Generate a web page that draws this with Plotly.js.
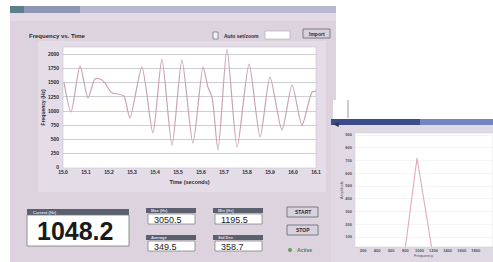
<!DOCTYPE html>
<html><head><meta charset="utf-8">
<script src="https://cdn.plot.ly/plotly-3.0.1.min.js"></script>
<style>html,body{margin:0;padding:0;background:#fff;}#chart{width:493px;height:262px;}</style>
</head><body><div id="chart"></div>
<script>
// ---- data ----
const timePos = [0.04,0.35,0.74,1.09,1.39,1.61,1.83,1.96,2.13,2.39,2.65,2.91,3.43,3.91,4.30,4.74,5.17,5.65,6.09,6.30,6.48,6.74,7.13,7.57,8.09,8.57,9.0,9.52,9.96,10.39,10.83,11.0];
const freqHz = [1512,983,1794,1229,1565,1565,1494,1406,1318,1300,1265,877,1776,612,1917,400,1900,435,1776,1423,1247,312,2088,365,1829,542,1600,665,1459,753,1335,1353];
const timeTickVals = [0,1,2,3,4,5,6,7,8,9,10,11];
const timeTickText = ["15.0","15.1","15.2","15.3","15.4","15.5","15.6","15.7","15.8","15.9","16.0","16.1"];
const freqTickVals = [0,250,500,750,1000,1250,1500,1750,2000];
const specFreq = [86,796,966,1179,2030];
const specAmp = [0,0,720,0,0];
const specXTicks = [200,400,600,800,1000,1200,1400,1600,1800,2000];
const specYTicks = [100,200,300,400,500,600,700,800,900];
const readoutMain = "1048.2";
const readoutLabels = ["Current (Hz)","Max (Hz)","Min (Hz)","Average","Std Dev"];
const readoutValues = ["3050.5","1195.5","349.5","358.7"];

// ---- helpers (pixel -> paper) ----
const W=493,H=262;
const px=x=>x/W, py=y=>1-y/H;
const shapes=[], ann=[];
function rect(x0,y0,x1,y1,fill,line,lw){
  shapes.push({type:'rect',xref:'paper',yref:'paper',x0:px(x0),x1:px(x1),y0:py(y1),y1:py(y0),
    fillcolor:fill,line:{color:line||fill,width:lw===undefined?0:lw},layer:'below'});
}
function text(x,y,t,opt){
  opt=opt||{};
  ann.push({xref:'paper',yref:'paper',x:px(x),y:py(y),text:t,showarrow:false,
    xanchor:opt.xa||'left',yanchor:'middle',textangle:opt.rot||0,
    font:{family:'Liberation Sans, Arial, sans-serif',size:opt.size||6,color:opt.color||'#2a2a33',weight:opt.weight||'bold'}});
}

// main window
rect(10,6,336,262,'#dcd3df');
rect(10,6,336,13,'#b9b6cf');
rect(10,6,24,13,'#5d7f8c');
rect(24,6,80,13,'#8f96b5');
rect(10,13,336,21,'#e2dbe6');
rect(38,41,326,192,'#e4dde8');
rect(63,47,316,168,'#ffffff','#c8c4cc',0.6);
// controls above chart
text(27,36,'Frequency vs. Time');
rect(213,32,218,39,'#f4f1f6','#555',0.6);
text(222,35.5,'Auto set/zoom',{size:5});
rect(265,31,290,39,'#ffffff','#aaa',0.6);
rect(303,29,330,38,'#d6d0dc','#66666f',0.8);
text(316.5,33.5,'Import',{xa:'center',size:5});
text(336,124,'◀',{xa:'center',size:6,color:'#334'});

// bottom readouts
rect(27,209,129,215,'#5c606e');
text(31,212,readoutLabels[0],{size:4,color:'#dde'});
rect(27,215,129,246,'#ffffff','#777',0.8);
text(75,231,readoutMain,{xa:'center',size:25,color:'#1a1a1a'});
const boxes=[[146,208],[213,208],[146,235],[213,235]];
boxes.forEach((b,i)=>{
  rect(b[0],b[1],b[0]+50,b[1]+5,'#5c606e');
  text(b[0]+3,b[1]+2.5,readoutLabels[i+1],{size:4,color:'#dde'});
  rect(b[0]+2,b[1]+6,b[0]+49,b[1]+16,'#ffffff','#777',0.7);
  text(b[0]+6,b[1]+11.5,readoutValues[i],{size:9,color:'#222',weight:'normal'});
});
rect(287,207,318,217,'#d8d2de','#666',0.8);
text(302.5,212,'START',{xa:'center',size:5});
rect(287,225,318,235,'#d8d2de','#666',0.8);
text(302.5,230,'STOP',{xa:'center',size:5});
shapes.push({type:'circle',xref:'paper',yref:'paper',x0:px(288),x1:px(292),y0:py(252),y1:py(248),fillcolor:'#6a9a5a',line:{width:0},layer:'below'});
text(295,250,'Active',{size:5,color:'#5a7a5a'});

// second window
rect(333,100,493,119,'#ffffff');
rect(347.5,100,348.5,118,'#9a9aa6');
rect(331,119,493,262,'#e0d9e4');
rect(331,119,493,125,'#3b4c8c');
rect(420,119,493,125,'#6f86c0');
rect(355,133,493,247,'#ffffff','#ccc',0.5);

const layout={
  width:W,height:H,margin:{l:0,r:0,t:0,b:0},
  paper_bgcolor:'#ffffff',plot_bgcolor:'rgba(0,0,0,0)',showlegend:false,
  font:{family:'Liberation Sans, Arial, sans-serif',size:6,color:'#2a2a33'},
  xaxis:{domain:[px(63),px(316)],range:[0,11],tickvals:timeTickVals,ticktext:timeTickText,
    showgrid:false,zeroline:false,showline:false,ticks:'',tickfont:{size:5,weight:'bold'},
    title:{text:'Time (seconds)',font:{size:5.5,weight:'bold'},standoff:6}},
  yaxis:{domain:[py(167.7),py(47)],range:[0,2130],tickvals:freqTickVals,
    showgrid:true,gridcolor:'#c3c0c9',gridwidth:0.8,zeroline:false,showline:false,ticks:'',
    tickfont:{size:5,weight:'bold'},ticklabelstandoff:3,
    title:{text:'Frequency (Hz)',font:{size:5,weight:'bold'},standoff:2}},
  xaxis2:{anchor:'y2',domain:[px(355),px(492)],range:[86,2030],tickvals:specXTicks,
    showgrid:false,zeroline:false,showline:false,ticks:'',tickfont:{size:4,color:'#555',weight:'bold'},
    title:{text:'Frequency',font:{size:4,color:'#555'},standoff:1}},
  yaxis2:{anchor:'x2',domain:[py(247),py(133)],range:[22,916],tickvals:specYTicks,
    showgrid:true,gridcolor:'#ecebef',gridwidth:0.6,zeroline:false,showline:false,ticks:'',
    tickfont:{size:4,color:'#555',weight:'bold'},ticklabelstandoff:2,
    title:{text:'Amplitude',font:{size:4,color:'#555'},standoff:1}},
  shapes:shapes,annotations:ann
};
const traces=[
  {x:timePos,y:freqHz,xaxis:'x',yaxis:'y',mode:'lines',line:{color:'#cba2b4',width:1.2,shape:'spline',smoothing:0.7},hoverinfo:'skip'},
  {x:specFreq,y:specAmp,xaxis:'x2',yaxis:'y2',mode:'lines',line:{color:'#e3a9bb',width:1.1},hoverinfo:'skip'}
];
Plotly.newPlot('chart',traces,layout,{staticPlot:true,displayModeBar:false});
</script></body></html>
